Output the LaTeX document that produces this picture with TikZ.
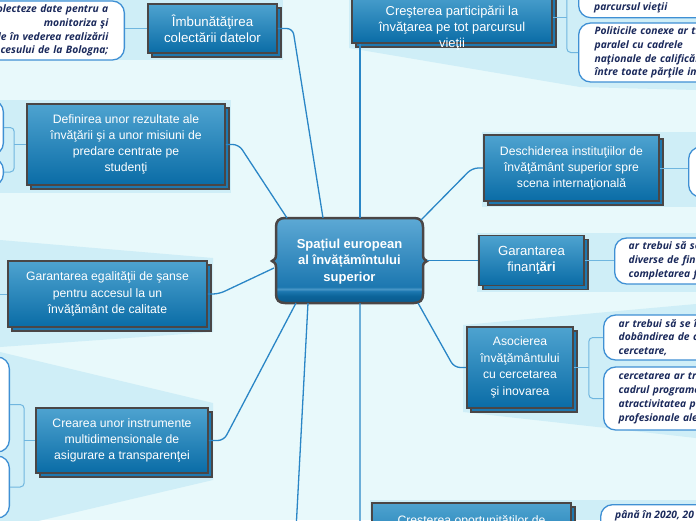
\documentclass[tikz,border=0pt]{standalone}
\usepackage{fontspec}
\setmainfont{Liberation Sans}
\newfontfamily\bubblefont{Open Sans}
\usetikzlibrary{shadows,calc}
\definecolor{bg}{HTML}{E8F9FB}
\definecolor{band}{HTML}{CFEEF7}
\definecolor{ntop}{HTML}{4EA3D0}
\definecolor{nbot}{HTML}{0A6CA6}
\definecolor{nborder}{HTML}{4A4646}
\definecolor{nshadow}{HTML}{1E78B0}
\definecolor{connc}{HTML}{2A86C6}
\definecolor{bconnc}{HTML}{70B6DF}
\definecolor{bborder}{HTML}{3F90D4}
\definecolor{btext}{HTML}{1B2A5C}
\definecolor{cA1}{HTML}{5DA9D5}
\definecolor{cA2}{HTML}{1C77B0}
\definecolor{cA3}{HTML}{4B98C8}
\definecolor{cA4}{HTML}{0B6399}
\definecolor{cA5}{HTML}{0A5A8E}
\pgfdeclareverticalshading{centershade}{100bp}{color(0bp)=(cA5); color(25bp)=(cA5); color(29bp)=(cA4); color(32bp)=(cA2); color(33.2bp)=(cA3); color(34.5bp)=(cA2); color(75bp)=(cA1); color(100bp)=(cA1)}
\tikzset{
  topic/.style={draw=nborder, line width=1.6pt, top color=ntop, bottom color=nbot,
    text=white, align=center, inner sep=0pt,
    general shadow={shadow xshift=4pt, shadow yshift=-4pt, shade=false, fill=nshadow, draw=nborder, line width=1.6pt}},
  tfont/.style={font=\fontsize{12.2}{16}\selectfont},
  ttext/.style={text=white, align=center, inner sep=0pt},
  bubble/.style={draw=bborder, line width=1.3pt, fill=white, rounded corners=12pt,
    text=btext, font=\bubblefont\bfseries\itshape\fontsize{10.3}{13.8}\selectfont,
    align=left, inner ysep=0pt},
  btxt/.style={text=btext, font=\bubblefont\bfseries\itshape\fontsize{10.3}{13.8}\selectfont, inner sep=0pt},
  conn/.style={draw=connc, line width=1.3pt, rounded corners=6pt},
  bc/.style={draw=bconnc, line width=1pt, rounded corners=4pt},
}
\begin{document}
\begin{tikzpicture}[x=1pt,y=-1pt]
\useasboundingbox (0,0) rectangle (696,520);
\clip (0,0) rectangle (696,520);
\fill[bg] (0,0) rectangle (696,520);
% bands
\fill[band] (0,0) rectangle (283,60);
\fill[band] (349,0) -- (696,0) -- (696,90) -- (580,87) -- (349,48) -- cycle;
\fill[band] (0,100) rectangle (231,193);
\fill[band] (482,132) rectangle (696,207);
\fill[band] (477,233) rectangle (696,292);
\fill[band] (0,240) -- (213,258) -- (213,332) -- (0,347) -- cycle;
\fill[band] (463,325) -- (696,304) -- (696,438) -- (463,412) -- cycle;
\fill[band] (0,352) -- (213,403) -- (213,480) -- (0,530) -- cycle;
\fill[band] (370,500) rectangle (696,520);

% central node
\path[draw=nborder, line width=2.5pt, shading=centershade]
  (285,218) -- (414,218) .. controls (420,218) and (423,221) .. (423,227) -- (423,255)
  .. controls (423,259) and (425,260) .. (427,261) .. controls (425,262) and (423,263) .. (423,267)
  -- (423,294) .. controls (423,300) and (420,303) .. (414,303) -- (285,303)
  .. controls (279,303) and (276,300) .. (276,294) -- (276,267)
  .. controls (276,263) and (274,262) .. (272,261) .. controls (274,260) and (276,259) .. (276,255)
  -- (276,227) .. controls (276,221) and (279,218) .. (285,218) -- cycle;
\node[minimum width=147pt, minimum height=85pt, inner sep=0pt, text=white, align=center,
  font=\bfseries\fontsize{13}{16.5}\selectfont] (c) at (349.5,261.5) {Spațiul european\\al învățămîntului\\superior};

% topic nodes
\node[topic, minimum width=129pt, minimum height=49pt, font=\fontsize{13.3}{16}\selectfont] (n1) at (212.5,28.5) {Îmbunătăţirea\\colectării datelor};
\node[topic, minimum width=200pt, minimum height=51pt] (n2) at (452,17.5) {};
\node[ttext, font=\fontsize{12.9}{16}\selectfont] (n2t) at (452,28) {Creşterea participării la\\învăţarea pe tot parcursul\\vieţii};
\node[topic, tfont, minimum width=198pt, minimum height=81pt] (n3) at (126,144.5) {Definirea unor rezultate ale\\învăţării şi a unor misiuni de\\predare centrate pe\\studenţi};
\node[topic, tfont, minimum width=175pt, minimum height=66pt] (n4) at (571.5,168) {Deschiderea instituţiilor de\\învăţământ superior spre\\scena internaţională};
\node[topic, minimum width=105pt, minimum height=50pt, font=\fontsize{13.2}{16}\selectfont] (n5) at (531.5,260.5) {Garantarea\\finanţ\textbf{ări}};
\node[topic, minimum width=199pt, minimum height=66pt, font=\fontsize{12.2}{16.5}\selectfont] (n6) at (107.5,294) {Garantarea egalităţii de şanse\\pentru accesul la un\\învăţământ de calitate};
\node[topic, minimum width=106pt, minimum height=81pt, font=\fontsize{12.2}{16.5}\selectfont] (n7) at (520,367.5) {Asocierea\\învăţământului\\cu cercetarea\\şi inovarea};
\node[topic, tfont, minimum width=172pt, minimum height=65pt] (n8) at (122,440.5) {Crearea unor instrumente\\multidimensionale de\\asigurare a transparenţei};
\node[topic, minimum width=199pt, minimum height=64pt] (n9) at (471.5,535) {};
\node[ttext, tfont] (n9t) at (471.5,521) {Creşterea oportunităţilor de};

% bubbles
\node[bubble, anchor=east, align=right, text width=220pt, inner xsep=16pt, minimum height=59pt] (b1) at (125,30.5) {olecteze date pentru a\\monitoriza şi\\le în vederea realizării\\ocesului de la Bologna;};
\node[bubble, anchor=north west, minimum width=200pt, minimum height=48pt] (b2a) at (578,-31) {};
\node[btxt, anchor=west] (t2a) at (594,8) {parcursul vieţii};
\node[bubble, anchor=west, text width=200pt, inner xsep=16pt, minimum height=59pt] (b2b) at (578,52.5) {Politicile conexe ar tr\\paralel cu cadrele\\naţionale de calificăr\\între toate părţile imp};
\node[bubble, anchor=west, minimum width=100pt, minimum height=50pt] (b4) at (688,172) {};
\node[bubble, anchor=west, text width=200pt, inner xsep=14pt, minimum height=46pt] (b5) at (614,261) {ar trebui să se\\diverse de fina\\completarea f};
\node[bubble, anchor=west, text width=200pt, inner xsep=15pt, minimum height=45pt] (b7a) at (603,337.5) {ar trebui să se în\\dobândirea de co\\cercetare,};
\node[bubble, anchor=west, text width=200pt, inner xsep=15pt, minimum height=63pt] (b7b) at (603,398.5) {cercetarea ar tre\\cadrul programe\\atractivitatea pe\\profesionale ale};
\node[bubble, anchor=north west, minimum width=200pt, minimum height=60pt] (b9) at (600,504) {};
\node[btxt, anchor=west] (t9) at (615,516) {până în 2020, 20};
\node[bubble, anchor=east, minimum width=100pt, minimum height=55pt] (b3a) at (4,127.5) {};
\node[bubble, anchor=east, minimum width=100pt, minimum height=28pt] (b3b) at (4,172) {};
\node[bubble, anchor=east, minimum width=100pt, minimum height=95pt] (b8a) at (10,404.5) {};
\node[bubble, anchor=east, minimum width=100pt, minimum height=62pt] (b8b) at (10,487) {};

% attachment points on the central node
\coordinate (cA) at (323,218);
\coordinate (cB) at (287,218);
\coordinate (cC) at (274,268);
\coordinate (cD) at (296,303);
\coordinate (cE) at (308,303);
\coordinate (offBL) at (296,530);
\coordinate (cF) at (360,218);
\coordinate (cG) at (360,303);
\coordinate (cH) at (421,220);
\coordinate (cI) at (427,260.5);
\coordinate (cJ) at (418,303);
\coordinate (offL) at (-5,294);

% main connectors
\draw[conn] (n1.east) -- ++(15,0) -- (cA);
\draw[conn] (n3.east) -- ++(13,0) -- (cB);
\draw[conn] (n6.east) -- ++(11,0) -- (cC);
\draw[conn] (n8.east) -- ++(15,0) -- (cD);
\draw[conn] (cE) -- (offBL);
\draw[conn] (cF) -- (cF |- n2.south);
\draw[conn] (cG) |- (n9.west);
\draw[conn] (n4.west) -- ++(-11,0) -- (cH);
\draw[conn] (cI) -- (n5.west);
\draw[conn] (n7.west) -- ++(-12,0) -- (cJ);

% bubble connectors
\coordinate (k2) at ($(n2.east)+(14,0)$);
\draw[bc] (n2.east) -- (k2);
\draw[bc] (b2a.west) -| (k2) |- (b2b.west);
\draw[bc] (n4.east) -- (n4.east -| b4.west);
\draw[bc] (n5.east) -- (n5.east -| b5.west);
\coordinate (k7) at ($(n7.east)+(15,0)$);
\draw[bc] (n7.east) -- (k7);
\draw[bc] (b7a.west) -| (k7) |- (b7b.west);
\coordinate (k3) at ($(n3.west)+(-12,0)$);
\draw[bc] (n3.west) -- (k3);
\draw[bc] (b3a.east) -| (k3) |- (b3b.east);
\coordinate (k8) at ($(n8.west)+(-11,0)$);
\draw[bc] (n8.west) -- (k8);
\draw[bc] (b8a.east) -| (k8) |- (b8b.east);
\draw[bc] (n1.west) -- (n1.west -| b1.east);
\draw[bc] (n6.west) -- (offL);
\end{tikzpicture}
\end{document}
